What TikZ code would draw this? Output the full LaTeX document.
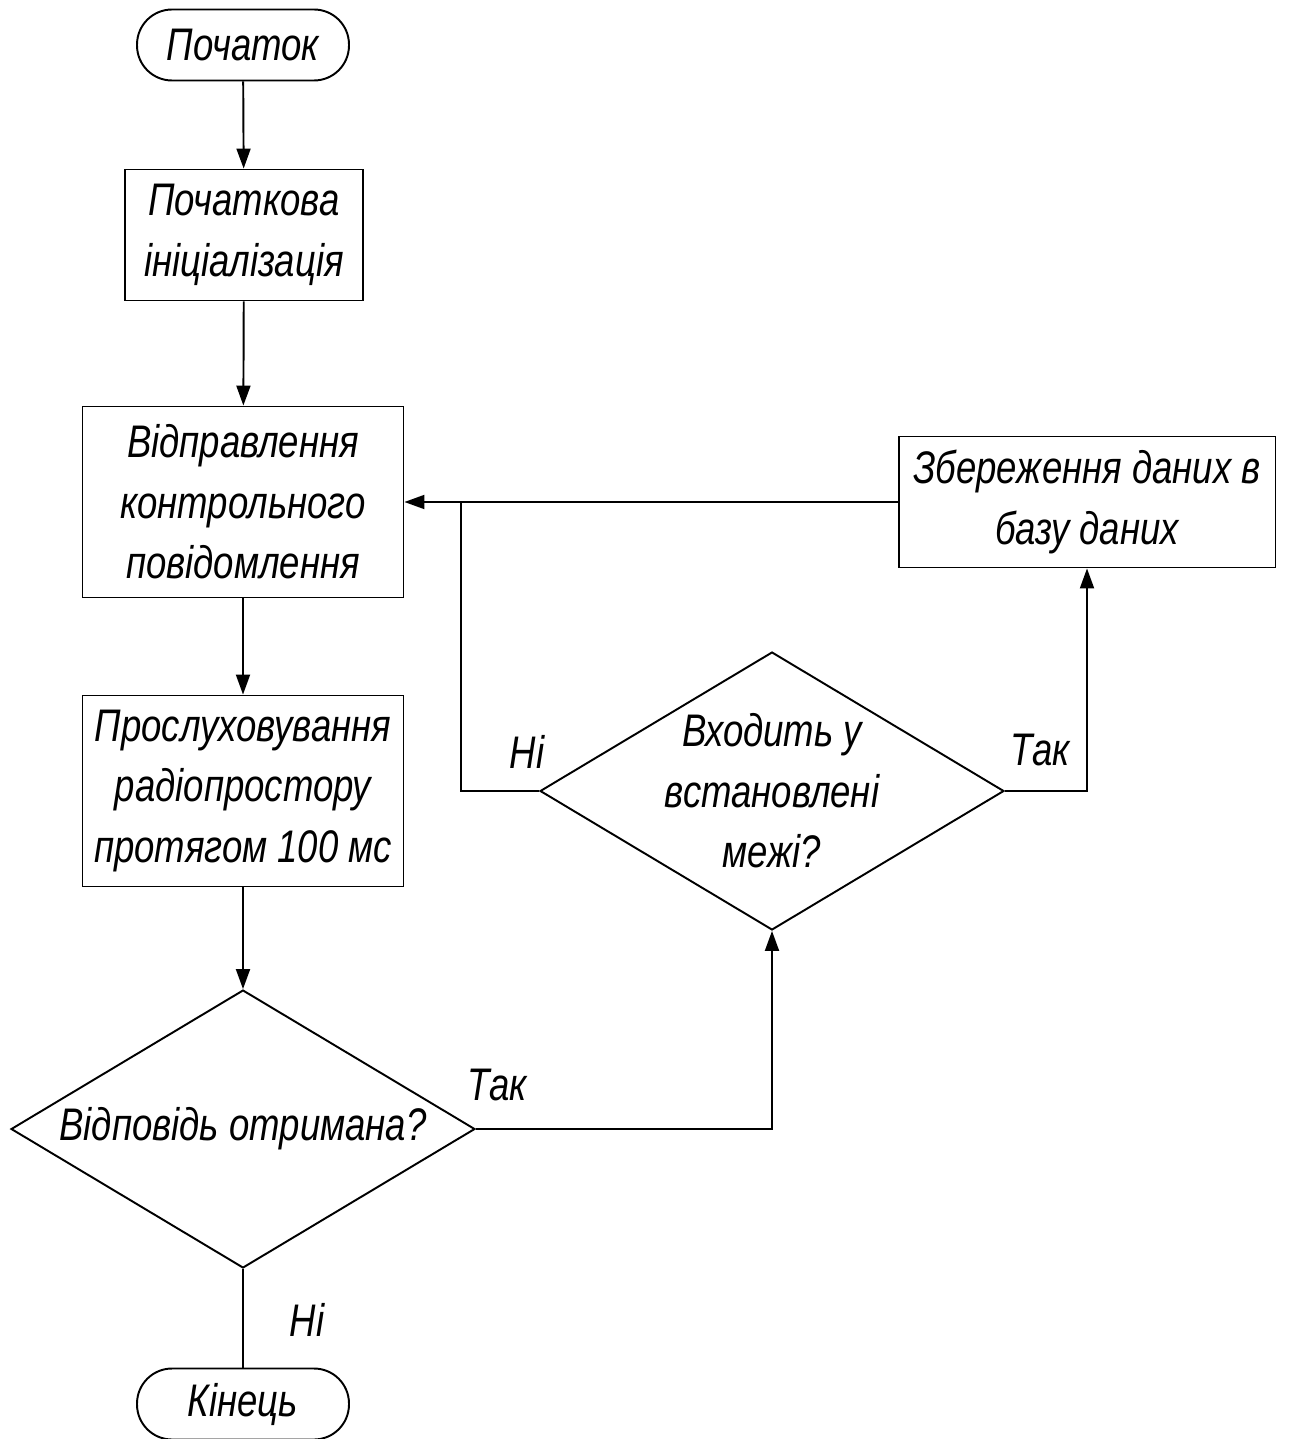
\documentclass[tikz,border=0pt]{standalone}
\usepackage{fontspec}
\newfontfamily\gostfont{Liberation Sans}[FakeStretch=0.8]
\usetikzlibrary{shapes.geometric,arrows.meta}

\begin{document}
\begin{tikzpicture}[x=0.02cm,y=-0.02cm,line width=1.1pt,
    font=\gostfont\itshape\fontsize{26}{34.5}\selectfont,
    >={Triangle[length=0.4cm,width=0.28cm]},
    term/.style={draw,rounded corners=0.7cm,minimum width=4.24cm,minimum height=1.42cm},
    proc/.style={draw,align=center,inner sep=0pt},
    cond/.style={draw,diamond,inner sep=0pt,minimum width=9.28cm,minimum height=5.56cm}]
\useasboundingbox (0,0) rectangle (1288,1439);
% blocks
\node[term] (start) at (243,45) {Початок};
\node[proc,minimum width=4.76cm,minimum height=2.62cm] (init) at (244,235) {Початкова\\ініціалізація};
\node[proc,minimum width=6.42cm,minimum height=3.82cm] (send) at (243,502) {Відправлення\\контрольного\\повідомлення};
\node[proc,minimum width=6.42cm,minimum height=3.82cm] (listen) at (243,791) {Прослуховування\\радіопростору\\протягом 100 мс};
\node[cond,label={center:Відповідь отримана?}] (got) at (243,1129) {};
\node[cond,label={[align=center]center:Входить у\\встановлені\\межі?}] (inrange) at (772,791) {};
\node[proc,minimum width=7.54cm,minimum height=2.62cm] (save) at (1087,502) {Збереження даних в\\базу даних};
\node[term] (finish) at (243,1404) {Кінець};
\coordinate (join) at (461,502);
% labels
\node (yes1) at (497,1085) {Так};
\node (no1) at (307,1320) {Ні};
\node (no2) at (527,752) {Ні};
\node (yes2) at (1040,750) {Так};
% connectors
\draw[->] (start) -- (init);
\draw[->] (init) -- (send);
\draw[->] (send) -- (listen);
\draw[->] (listen) -- (got);
\draw (got) -- (finish);
\draw[->] (got.east) -| (inrange.south);
\draw[->] (inrange.east) -| (save.south);
\draw[->] (save.west) -- (send.east);
\draw (inrange.west) -| (join);
\end{tikzpicture}
\end{document}
